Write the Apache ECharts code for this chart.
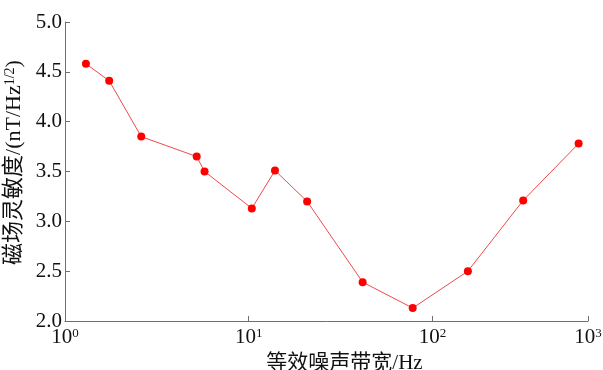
<!DOCTYPE html>
<html>
<head>
<meta charset="utf-8">
<script src="https://cdn.jsdelivr.net/npm/echarts@6/dist/echarts.min.js"></script>
<style>
  html, body { margin: 0; padding: 0; background: #fff; }
  #chart { width: 603px; height: 370px; }
</style>
</head>
<body>
<div id="chart"></div>
<script>
// Equivalent noise bandwidth (Hz) and magnetic sensitivity (nT/Hz^1/2)
const bandwidth = [1.30, 1.74, 2.60, 5.21, 5.75, 10.4, 13.9, 20.8, 41.7, 78.1, 156, 312, 625];
const sensitivity = [4.58, 4.41, 3.85, 3.65, 3.50, 3.13, 3.51, 3.20, 2.39, 2.13, 2.50, 3.21, 3.78];
// Exponents shown on the decade tick labels (10^n)
const decadeExponents = ['0', '1', '2', '3'];
const yTicks = { min: 2.0, max: 5.0, step: 0.5 };
const xRange = { min: 1, max: 703 };

const serif = "'Liberation Serif', 'Times New Roman', 'Noto Sans CJK SC', serif";
const axisGray = '#6e6e6e';

const chart = echarts.init(document.getElementById('chart'), null, { renderer: 'canvas' });

chart.setOption({
  backgroundColor: '#ffffff',
  animation: false,
  grid: { left: 65, right: 15, top: 22, bottom: 49, containLabel: false, outerBoundsMode: 'none' },
  xAxis: {
    type: 'log',
    logBase: 10,
    min: xRange.min,
    max: xRange.max,
    name: '等效噪声带宽/Hz',
    nameLocation: 'middle',
    nameGap: 23,
    nameTextStyle: { fontFamily: serif, fontSize: 21, color: '#111', padding: [0, 0, 0, 36] },
    axisLine: { show: true, lineStyle: { color: axisGray, width: 1 } },
    axisTick: { show: true, inside: true, length: 5, lineStyle: { color: axisGray } },
    minorTick: { show: false },
    splitLine: { show: false },
    axisLabel: {
      showMinLabel: true,
      showMaxLabel: true,
      margin: 6,
      formatter: function (value, index) {
        return '{b|10}{s|' + decadeExponents[index] + '}';
      },
      rich: {
        b: { fontFamily: serif, fontSize: 21, color: '#111' },
        s: { fontFamily: serif, fontSize: 13, color: '#111', verticalAlign: 'top', lineHeight: 13 }
      }
    }
  },
  yAxis: {
    type: 'value',
    min: yTicks.min,
    max: yTicks.max,
    interval: yTicks.step,
    name: '{t|磁场灵敏度/(nT/Hz}{s|1/2}{t|)}',
    nameLocation: 'middle',
    nameGap: 39,
    nameTextStyle: {
      padding: [0, 0, 0, 18],
      rich: {
        t: { fontFamily: serif, fontSize: 22, color: '#111' },
        s: { fontFamily: serif, fontSize: 14, color: '#111', verticalAlign: 'top', lineHeight: 14 }
      }
    },
    axisLine: { show: true, lineStyle: { color: axisGray, width: 1 } },
    axisTick: { show: true, inside: true, length: 5, lineStyle: { color: axisGray } },
    splitLine: { show: false },
    axisLabel: {
      margin: 3,
      fontFamily: serif,
      fontSize: 21,
      color: '#111',
      formatter: function (v) { return v.toFixed(1); }
    }
  },
  series: [{
    type: 'line',
    data: bandwidth.map((f, i) => [f, sensitivity[i]]),
    symbol: 'circle',
    symbolSize: 8,
    itemStyle: { color: '#ff0000' },
    lineStyle: { color: '#ef4a4a', width: 1 }
  }]
});
</script>
</body>
</html>
